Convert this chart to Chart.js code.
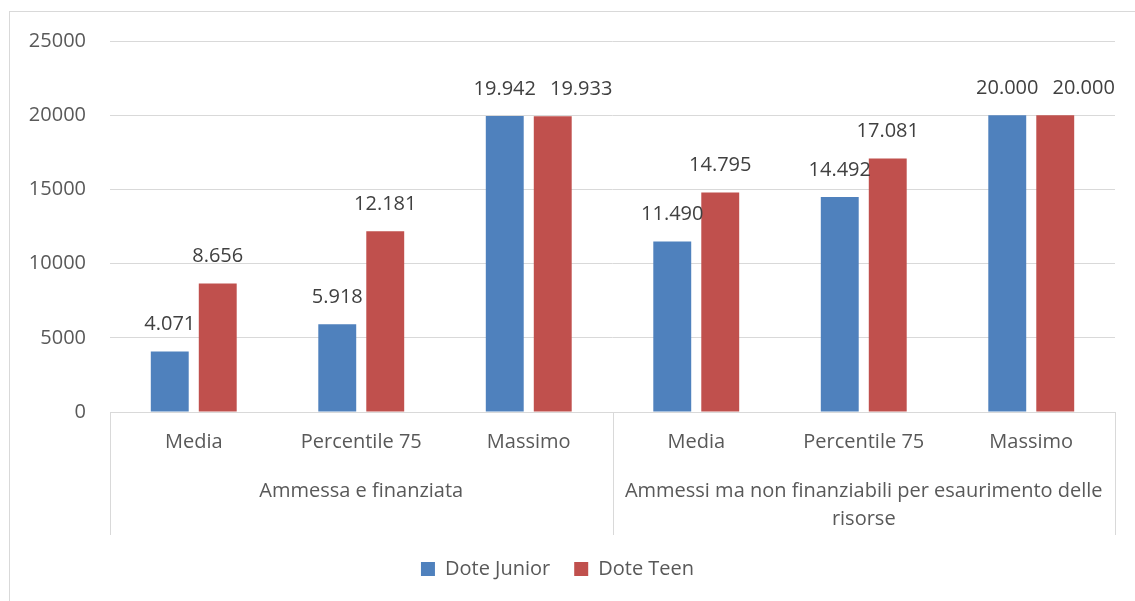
<!DOCTYPE html>
<html>
<head>
<meta charset="utf-8">
<script src="https://cdn.jsdelivr.net/npm/chart.js@4/dist/chart.umd.min.js"></script>
<style>
    html, body { margin: 0; padding: 0; background: #fff; }
    #wrap { position: relative; width: 1135px; height: 601px; }
</style>
</head>
<body>
<div id="wrap"><canvas id="chart"></canvas></div>
<script>
// Data
const categories = ['Media', 'Percentile 75', 'Massimo', 'Media', 'Percentile 75', 'Massimo'];
const groups = ['Ammessa e finanziata', ['Ammessi ma non finanziabili per esaurimento delle', 'risorse']];
const doteJunior = [4071, 5918, 19942, 11490, 14492, 20000];
const doteTeen = [8656, 12181, 19933, 14795, 17081, 20000];
const yTicks = [0, 5000, 10000, 15000, 20000, 25000];

const FONT = "'Open Sans', 'Noto Sans', sans-serif";
const GRID = '#d9d9d9';

function fmt(v) {
    return String(v).replace(/\B(?=(\d{3})+(?!\d))/g, '.');
}

// Outer frame like the Excel chart border
const framePlugin = {
    id: 'frame',
    beforeDraw(chart) {
        const ctx = chart.ctx;
        ctx.save();
        ctx.fillStyle = '#fff';
        ctx.fillRect(0, 0, chart.width, chart.height);
        ctx.strokeStyle = GRID;
        ctx.lineWidth = 1;
        ctx.strokeRect(9.5, 11.5, chart.width, chart.height);
        ctx.restore();
    },
};

// Vertical separators of the two-level category axis
const separatorPlugin = {
    id: 'separators',
    afterDraw(chart) {
        const x = chart.scales.x;
        const x2 = chart.scales.x2;
        const ctx = chart.ctx;
        const half = (x2.getPixelForValue(1) - x2.getPixelForValue(0)) / 2;
        const xs = [x2.getPixelForValue(0) - half, x2.getPixelForValue(0) + half, x2.getPixelForValue(1) + half];
        ctx.save();
        ctx.strokeStyle = GRID;
        ctx.lineWidth = 1;
        xs.forEach(px => {
            const p = Math.round(px) + 0.5;
            ctx.beginPath();
            ctx.moveTo(p, x.top);
            ctx.lineTo(p, x2.bottom);
            ctx.stroke();
        });
        ctx.restore();
    },
};

// Value labels above each bar; a label that would overlap its left
// neighbour is pushed to the right, as Excel does
const valueLabelPlugin = {
    id: 'valueLabels',
    afterDatasetsDraw(chart) {
        const ctx = chart.ctx;
        ctx.save();
        ctx.font = '20px ' + FONT;
        ctx.fillStyle = '#404040';
        ctx.textAlign = 'center';
        ctx.textBaseline = 'middle';
        const n = chart.data.labels.length;
        for (let j = 0; j < n; j++) {
            let prevRight = -Infinity;
            let prevY = null;
            chart.data.datasets.forEach((ds, i) => {
                const bar = chart.getDatasetMeta(i).data[j];
                const text = fmt(ds.data[j]);
                const w = ctx.measureText(text).width;
                let cx = bar.x;
                const y = bar.y - 27;
                if (prevY !== null && Math.abs(prevY - y) < 22 && cx - w / 2 < prevRight + 14) {
                    cx = prevRight + 14 + w / 2;
                }
                ctx.fillText(text, cx, y);
                prevRight = cx + w / 2;
                prevY = y;
            });
        }
        ctx.restore();
    },
};

new Chart(document.getElementById('chart'), {
    type: 'bar',
    data: {
        labels: categories,
        datasets: [{
            label: 'Dote Junior',
            data: doteJunior,
            backgroundColor: '#4f81bd',
            xAxisID: 'x',
        }, {
            label: 'Dote Teen',
            data: doteTeen,
            backgroundColor: '#c0504d',
            xAxisID: 'x',
        }],
    },
    options: {
        responsive: true,
        maintainAspectRatio: false,
        animation: false,
        categoryPercentage: 0.573,
        barPercentage: 0.79,
        layout: {
            padding: { top: 41, right: 20, left: 0, bottom: 12 },
        },
        scales: {
            x: {
                type: 'category',
                position: 'bottom',
                grid: { display: false, drawTicks: false },
                border: { display: true, color: GRID },
                ticks: {
                    color: '#595959',
                    font: { family: FONT, size: 20, lineHeight: 1.4 },
                    padding: 16,
                    maxRotation: 0,
                    autoSkip: false,
                },
                afterFit: (s) => { s.height = 50; },
            },
            x2: {
                type: 'category',
                position: 'bottom',
                labels: groups,
                offset: true,
                grid: { display: false, drawTicks: false },
                border: { display: false },
                ticks: {
                    color: '#595959',
                    font: { family: FONT, size: 20, lineHeight: 1.4 },
                    padding: 15,
                    maxRotation: 0,
                    autoSkip: false,
                },
                afterFit: (s) => { s.height = 73; },
            },
            y: {
                min: 0,
                max: 25000,
                afterBuildTicks: (s) => { s.ticks = yTicks.map(v => ({ value: v })); },
                grid: { color: GRID, drawTicks: false },
                border: { display: false },
                ticks: {
                    color: '#595959',
                    font: { family: FONT, size: 20 },
                    padding: 24,
                    callback: (v) => String(v),
                },
                afterFit: (s) => { s.width = 110; },
            },
        },
        plugins: {
            legend: {
                position: 'bottom',
                labels: {
                    color: '#595959',
                    font: { family: FONT, size: 20 },
                    boxWidth: 14,
                    boxHeight: 14,
                    padding: 24,
                },
            },
            tooltip: { enabled: false },
        },
    },
    plugins: [framePlugin, separatorPlugin, valueLabelPlugin],
});
</script>
</body>
</html>
